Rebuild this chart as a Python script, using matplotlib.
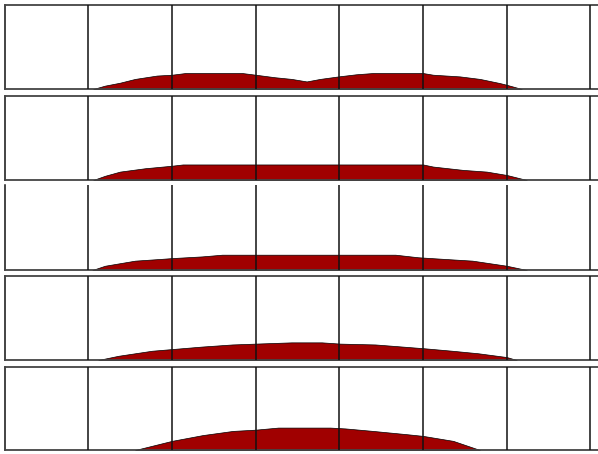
import numpy as np
import matplotlib
matplotlib.use("Agg")
import matplotlib.pyplot as plt

FILL_COLOR = '#a00000'
FRAME_COLOR = '#444444'
GRID_COLOR = '#111111'

# x positions in grid units, heights as a fraction of the panel height
x_1 = [1.06, 1.20, 1.38, 1.56, 1.82, 2.00, 2.16, 2.84, 3.00, 3.23, 3.43, 3.61, 3.77,
       3.99, 4.20, 4.40, 5.00, 5.12, 5.44, 5.68, 5.92, 6.00, 6.18]
y_1 = [0, .04, .075, .12, .16, .17, .19, .19, .17, .14, .12, .09, .12,
       .15, .175, .19, .19, .17, .15, .12, .07, .05, 0]

x_2 = [1.06, 1.20, 1.38, 1.68, 2.00, 2.13, 5.00, 5.12, 5.48, 5.76, 6.00, 6.24]
y_2 = [0, .05, .10, .14, .17, .185, .185, .16, .12, .10, .06, 0]

x_3 = [1.05, 1.20, 1.56, 1.86, 2.00, 2.36, 2.60, 4.67, 4.94, 5.26, 5.59, 6.00, 6.24]
y_3 = [0, .05, .11, .13, .14, .16, .18, .18, .15, .13, .11, .05, 0]

x_4 = [1.12, 1.36, 1.76, 2.00, 2.36, 2.72, 3.00, 3.43, 3.79, 4.01, 4.43, 5.01,
       5.35, 5.66, 6.00, 6.12]
y_4 = [0, .05, .11, .13, .16, .185, .195, .21, .21, .195, .185, .14,
       .11, .08, .035, 0]

x_5 = [1.56, 2.00, 2.37, 2.73, 3.00, 3.27, 3.89, 4.07, 4.40, 4.81, 5.00, 5.36, 5.68]
y_5 = [0, .11, .18, .23, .245, .27, .27, .26, .23, .19, .17, .11, 0]

series = [(x_1, y_1), (x_2, y_2), (x_3, y_3), (x_4, y_4), (x_5, y_5)]

# panel top / bottom in pixels, and whether the top frame line shows
W, H = 598, 454
panels = [(5, 89, True), (96, 180, True), (185, 270, False), (276, 360, True), (367, 450, True)]
left_px = 4.5
unit_px = 83.7

fig = plt.figure(figsize=(W / 100, H / 100), dpi=100)

for (xs, ys), (top, bot, show_top) in zip(series, panels):
    ax = fig.add_axes([left_px / W, 1 - bot / H, (W - left_px) / W, (bot - top) / H])
    ax.set_xlim(0, (W - left_px) / unit_px)
    ax.set_ylim(0, 1)
    ax.fill_between(xs, ys, 0, color=FILL_COLOR, edgecolor='black', linewidth=0.5, zorder=1)
    ax.set_xticks(range(1, 8))
    ax.set_yticks([])
    ax.tick_params(length=0, labelbottom=False)
    ax.grid(axis='x', color=GRID_COLOR, linewidth=1.1, zorder=2)
    ax.set_axisbelow(False)
    ax.spines['right'].set_visible(False)
    ax.spines['top'].set_visible(show_top)
    for s in ['top', 'bottom']:
        ax.spines[s].set_color(FRAME_COLOR)
        ax.spines[s].set_linewidth(1.3)
    ax.spines['left'].set_color(GRID_COLOR)
    ax.spines['left'].set_linewidth(1.1)

fig.savefig('out.png', dpi=100)
